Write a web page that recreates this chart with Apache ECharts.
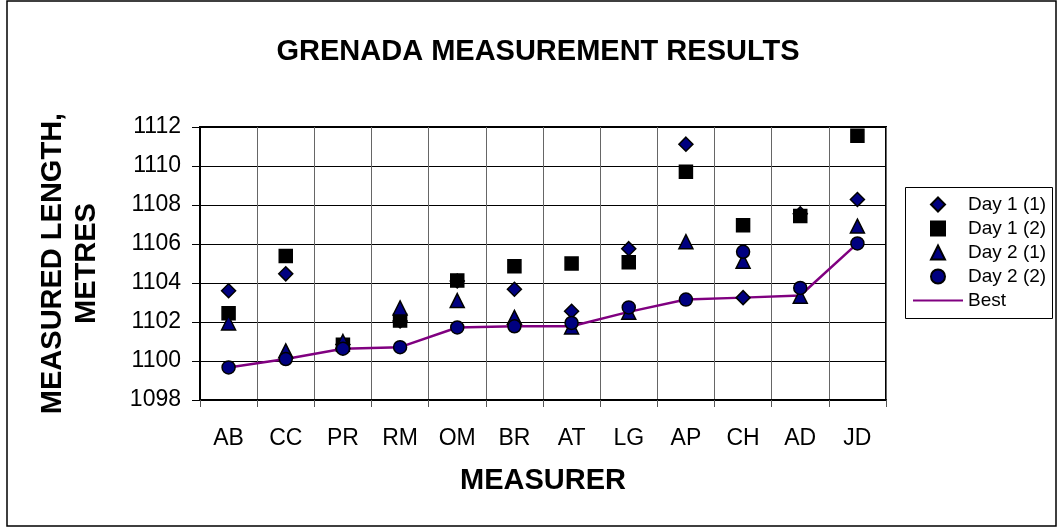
<!DOCTYPE html>
<html>
<head>
<meta charset="utf-8">
<title>Grenada measurement results</title>
<script src="https://cdn.jsdelivr.net/npm/echarts@6/dist/echarts.min.js"></script>
<style>
  html, body { margin: 0; padding: 0; background: #fff; }
  #chart { width: 1059px; height: 529px; }
</style>
</head>
<body>
<div id="chart"></div>
<script>
var measurers = ['AB', 'CC', 'PR', 'RM', 'OM', 'BR', 'AT', 'LG', 'AP', 'CH', 'AD', 'JD'];
var day1First = [1103.6, 1104.47, 1100.85, 1102.05, 1104.1, 1103.68, 1102.55, 1105.76, 1111.12, 1103.25, 1107.55, 1108.28];
var day1Second = [1102.45, 1105.38, 1100.83, 1102.08, 1104.13, 1104.86, 1105.0, 1105.07, 1109.7, 1106.96, 1107.44, 1111.55];
var day2First = [1101.95, 1100.52, 1101.0, 1102.72, 1103.1, 1102.24, 1101.75, 1102.5, 1106.12, 1105.12, 1103.32, 1106.92];
var day2Second = [1099.67, 1100.1, 1100.63, 1100.71, 1101.72, 1101.78, 1101.95, 1102.75, 1103.15, 1105.6, 1103.75, 1106.03];
var best = [1099.67, 1100.1, 1100.63, 1100.71, 1101.72, 1101.78, 1101.78, 1102.52, 1103.15, 1103.25, 1103.36, 1106.03];

var font = 'Liberation Sans, Arial, sans-serif';
var navy = '#000080';

var myChart = echarts.init(document.getElementById('chart'));

function dots (name, symbol, size, fill, values) {
  return {
    name: name,
    type: 'scatter',
    symbol: symbol,
    symbolSize: size,
    z: 3,
    itemStyle: { color: fill, borderColor: '#000', borderWidth: 1.5, opacity: 1 },
    data: values
  };
}

var legendText = { fontFamily: font, fontSize: 19, color: '#000' };

var option = {
  animation: false,
  textStyle: { fontFamily: font },
  graphic: [
    {
      type: 'rect',
      shape: { x: 7, y: 1, width: 1049, height: 525 },
      style: { fill: 'none', stroke: '#000', lineWidth: 1.5 },
      silent: true
    },
    {
      // legend frame
      type: 'rect',
      shape: { x: 905.5, y: 187.5, width: 147, height: 131 },
      style: { fill: 'none', stroke: '#000', lineWidth: 1 },
      silent: true
    },
    {
      type: 'text',
      x: 538,
      y: 52,
      style: {
        text: 'GRENADA MEASUREMENT RESULTS',
        font: 'bold 29px ' + font,
        fill: '#000',
        textAlign: 'center',
        textVerticalAlign: 'middle'
      }
    }
  ],
  legend: [
    {
      orient: 'vertical',
      left: 930,
      top: 195,
      padding: 0,
      itemWidth: 14,
      itemHeight: 14,
      itemGap: 5,
      textStyle: Object.assign({ padding: [0, 0, 0, 18] }, legendText),
      data: ['Day 1 (1)', 'Day 1 (2)', 'Day 2 (1)', 'Day 2 (2)']
    },
    {
      orient: 'vertical',
      left: 912,
      top: 291,
      padding: 0,
      itemWidth: 50,
      itemHeight: 14,
      textStyle: legendText,
      data: [{ name: 'Best', itemStyle: { opacity: 0 } }]
    }
  ],
  grid: {
    left: 200,
    right: 173,
    top: 127,
    bottom: 129,
    show: true,
    borderColor: '#000',
    borderWidth: 2
  },
  xAxis: {
    type: 'category',
    data: measurers,
    boundaryGap: true,
    name: 'MEASURER',
    nameLocation: 'middle',
    nameGap: 66,
    nameTextStyle: { fontFamily: font, fontSize: 29, fontWeight: 'bold', color: '#000' },
    axisLine: { lineStyle: { color: '#000', width: 2 } },
    axisTick: { show: true, length: 7, lineStyle: { color: '#555', width: 1 } },
    axisLabel: { fontFamily: font, fontSize: 23, color: '#000', margin: 27 },
    splitLine: { show: true, lineStyle: { color: '#666', width: 1 } }
  },
  yAxis: {
    type: 'value',
    min: 1098,
    max: 1112,
    interval: 2,
    name: 'MEASURED LENGTH,\nMETRES',
    nameLocation: 'middle',
    nameRotate: 90,
    nameGap: 96,
    nameTextStyle: { fontFamily: font, fontSize: 29, fontWeight: 'bold', color: '#000', lineHeight: 34 },
    axisLine: { show: true, lineStyle: { color: '#000', width: 2 } },
    axisTick: { show: true, length: 8, lineStyle: { color: '#000', width: 1 } },
    axisLabel: {
      fontFamily: font,
      fontSize: 23,
      color: '#000',
      margin: 19,
      formatter: function (v) { return String(v); }
    },
    splitLine: { show: true, lineStyle: { color: '#000', width: 1 } }
  },
  series: [
    dots('Day 1 (1)', 'diamond', 14, navy, day1First),
    dots('Day 1 (2)', 'rect', 13, '#000', day1Second),
    dots('Day 2 (1)', 'triangle', 14, navy, day2First),
    dots('Day 2 (2)', 'circle', 13, navy, day2Second),
    {
      name: 'Best',
      type: 'line',
      symbol: 'none',
      z: 1,
      lineStyle: { color: '#800080', width: 2.5 },
      itemStyle: { color: '#800080' },
      data: best
    }
  ]
};

option && myChart.setOption(option);
window.addEventListener('resize', function () {
  myChart.resize();
});
</script>
</body>
</html>
